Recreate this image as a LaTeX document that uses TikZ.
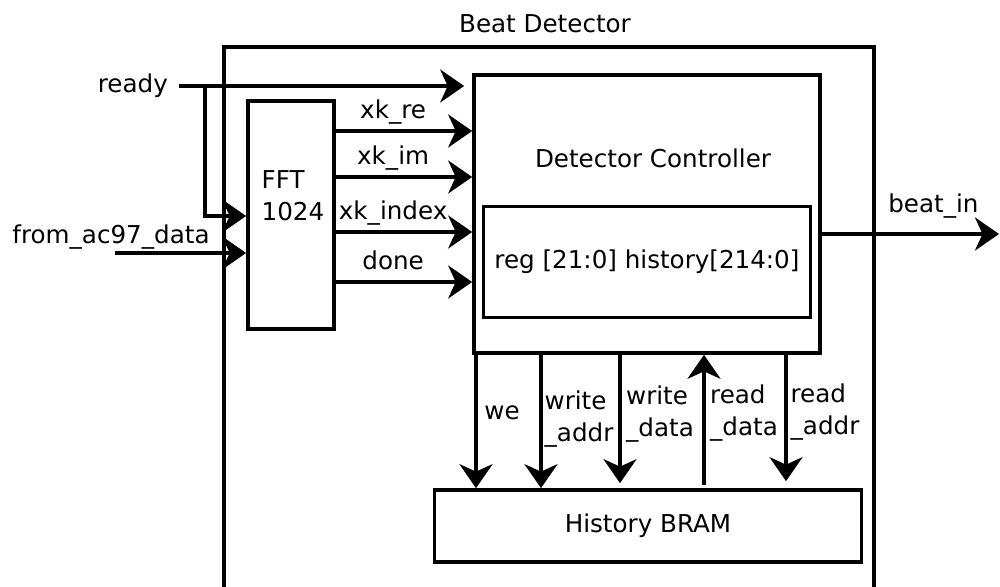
\documentclass[tikz,border=0pt]{standalone}
\usepackage{fontspec}
\setmainfont{DejaVu Sans}
\usetikzlibrary{arrows.meta,positioning,calc}
\tikzset{
  every picture/.style={font=\fontsize{14}{18}\selectfont},
  block/.style={draw=black, rectangle, inner sep=0pt},
  arrow/.style={-{Stealth[length=4.8mm, width=6.6mm, inset=1.5mm]}, draw=black},
  sig/.style={inner sep=1pt, align=left},
  wire/.style={above, text depth=0.25em},
}

\begin{document}
\begin{tikzpicture}[x=0.02cm, y=-0.02cm, line width=2.1pt]
  \useasboundingbox (0,0) rectangle (1000,587);
  % wrapper module, open at the bottom edge
  \node (title) at (545,24) {Beat Detector};
  \draw (224,587) -- (224,47) -- (874,47) -- (874,587);

  \node[block, minimum width=6.92cm, minimum height=5.56cm] (dc) at (647,214) {};
  \node (dctitle) at (653,158) {Detector Controller};
  \node[block, minimum width=6.54cm, minimum height=2.22cm] (reg) at (647,262) {reg [21:0] history[214:0]};
  \node[block, minimum width=1.72cm, minimum height=4.56cm] (fft) at (291,215) {};
  \node[sig] (fftlbl) at (293,196) {FFT\\1024};
  \node[block, minimum width=8.54cm, minimum height=1.44cm] (bram) at (648,526) {History BRAM};

  % inputs
  \coordinate (readyin) at (179,86);
  \coordinate (rsplit) at (205,86);
  \node[left=2pt of readyin] (readylbl) {ready};
  \draw[arrow, shorten >=0.16cm] (readyin) -- (dc.west |- readyin);
  \draw[arrow] (rsplit) |- (fft.west |- 0,216);
  \coordinate (ac97in) at (115,253);
  \node (ac97lbl) at (111,237) {from\_ac97\_data};
  \draw[arrow] (ac97in) -- (fft.west |- ac97in);

  % fft outputs
  \foreach \y/\name/\lbl in {131/re/xk\_re, 177/im/xk\_im, 232/idx/xk\_index, 282/done/done}
    \draw[arrow] (fft.east |- 0,\y) -- node[wire, pos=0.42] (lbl\name) {\lbl} (dc.west |- 0,\y);

  % output
  \coordinate (beatout) at (999,234);
  \draw[arrow] (dc.east |- beatout) -- node[wire, pos=0.63, yshift=0.18cm] (beatlbl) {beat\_in} (beatout);

  % bram ports
  \draw[arrow] (dc.south -| 476,0) -- (bram.north -| 476,0);
  \draw[arrow] (dc.south -| 541,0) -- (bram.north -| 541,0);
  \draw[arrow, shorten >=0.1cm] (dc.south -| 620,0) -- (bram.north -| 620,0);
  \draw[arrow, shorten <=0.06cm] (bram.north -| 704,0) -- (dc.south -| 704,0);
  \draw[arrow, shorten >=0.14cm] (dc.south -| 786,0) -- (bram.north -| 786,0);
  \node (welbl) at (502,413) {we};
  \node[sig] (walbl) at (579,419) {write\\\_addr};
  \node[sig] (wdlbl) at (660,414) {write\\\_data};
  \node[sig] (rdlbl) at (744,413) {read\\\_data};
  \node[sig] (ralbl) at (825,412) {read\\\_addr};
\end{tikzpicture}
\end{document}
